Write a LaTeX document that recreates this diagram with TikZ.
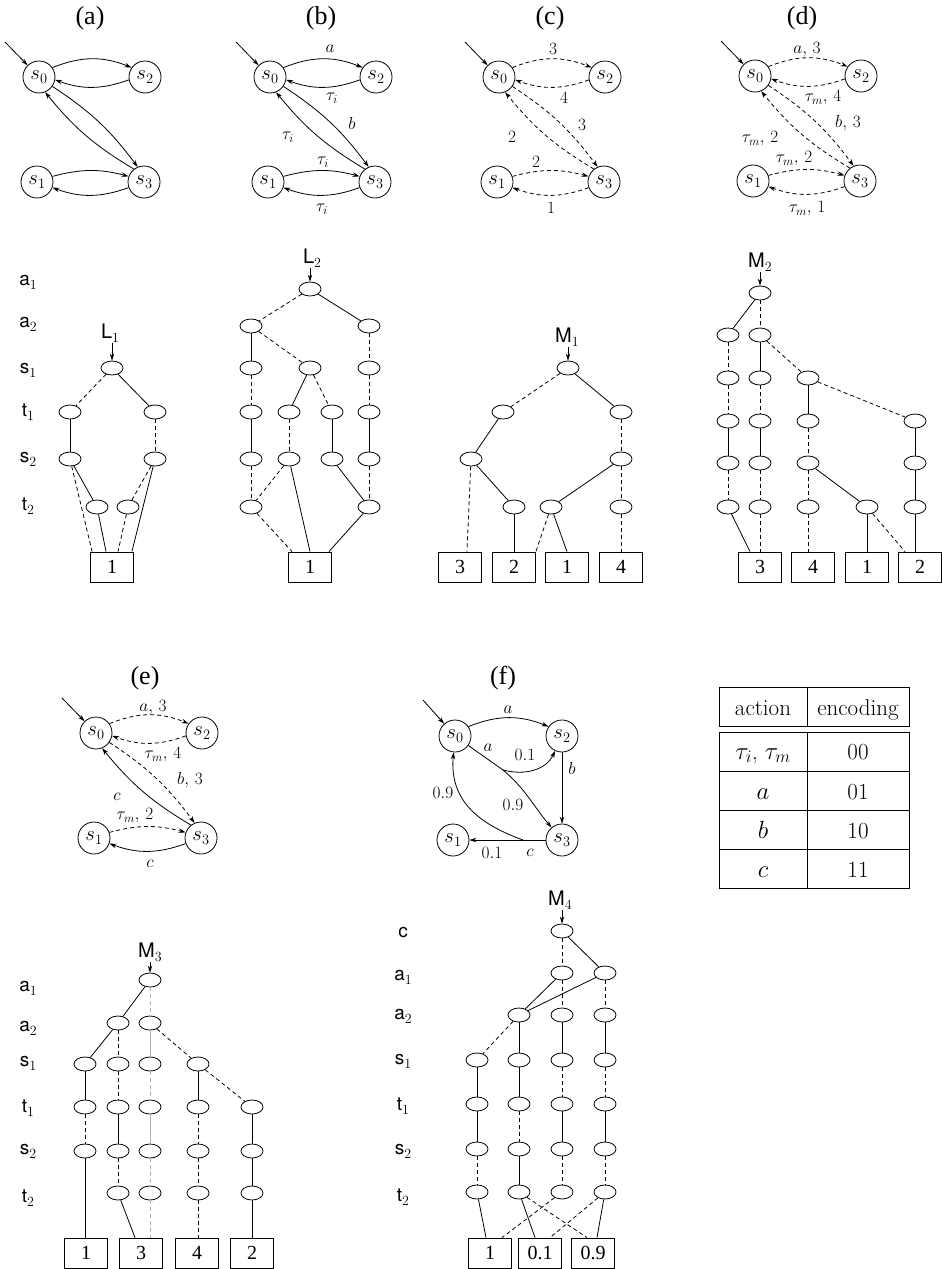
\documentclass[tikz,border=0pt]{standalone}
\usepackage{fontspec}
\setsansfont{TeX Gyre Heros}
\newfontfamily\tfont{Liberation Serif}
\usetikzlibrary{arrows.meta,shapes.geometric,calc}
\newcommand\lsub[1]{\raisebox{-4pt}{\rmfamily\fontsize{14}{14}\selectfont #1}}
\tikzset{
 st/.style={circle, draw, minimum size=32pt, inner sep=0pt, font=\fontsize{22}{24}\selectfont},
 bn/.style={ellipse, draw, minimum width=22pt, minimum height=14pt, inner sep=0pt},
 term/.style={rectangle, draw, minimum width=43pt, minimum height=30pt, inner sep=0pt, font=\tfont\fontsize{20}{22}\selectfont},
 lvl/.style={font=\sffamily\fontsize{19}{20}\selectfont, inner sep=0pt},
 ptr/.style={font=\sffamily\fontsize{20}{21}\selectfont, inner sep=0pt},
 ttl/.style={font=\tfont\fontsize{26}{28}\selectfont},
 el/.style={font=\fontsize{17}{18}\selectfont, inner sep=0pt},
 dsh/.style={dash pattern=on 4pt off 3pt},
 arr/.style={-{Stealth[length=7pt,width=4.5pt]}},
 lite/.style={draw=gray!60},
 tabt/.style={font=\fontsize{23}{25}\selectfont, anchor=base},
}
\begin{document}
\begin{tikzpicture}[x=1pt,y=1pt,line width=0.8pt]
\useasboundingbox (0,0) rectangle (942,-1269);

% ---------------- (a)
\begin{scope}[shift={(39,-77)}, name prefix=a-]
 \node[st] (s0) at (0,0) {$s_0$};
 \node[st] (s2) at (106,0) {$s_2$};
 \node[st] (s1) at (-2,-105) {$s_1$};
 \node[st] (s3) at (105,-105) {$s_3$};
 \node[ttl] (ttl) at (51,59) {(a)};
 \coordinate (ini) at (-34,35);
 \draw[arr] (ini) -- (s0);
 \draw[arr] (s0.35) to[bend left=22] (s2.145);
 \draw[arr] (s2.-170) to[bend left=20] (s0.-10);
 \draw[arr] (s0.-35) to[bend left=10] (s3.113);
 \draw[arr] (s3.128) to[bend left=10] (s0.-68);
 \draw[arr] (s1.20) to[bend left=15] (s3.160);
 \draw[arr] (s3.-160) to[bend left=20] (s1.-20);
\end{scope}

% ---------------- (b)
\begin{scope}[shift={(270,-77)}, name prefix=b-]
 \node[st] (s0) at (0,0) {$s_0$};
 \node[st] (s2) at (106,0) {$s_2$};
 \node[st] (s1) at (-2,-105) {$s_1$};
 \node[st] (s3) at (105,-105) {$s_3$};
 \node[ttl] (ttl) at (51,59) {(b)};
 \coordinate (ini) at (-34,35);
 \draw[arr] (ini) -- (s0);
 \draw[arr] (s0.35) to[bend left=22] (s2.145);
 \draw[arr] (s2.-170) to[bend left=20] (s0.-10);
 \draw[arr] (s0.-35) to[bend left=10] (s3.113);
 \draw[arr] (s3.128) to[bend left=10] (s0.-68);
 \draw[arr] (s1.20) to[bend left=15] (s3.160);
 \draw[arr] (s3.-160) to[bend left=20] (s1.-20);
 \node[el] (l1) at (60,28) {$a$};
 \node[el] (l2) at (62,-21) {$\tau_i$};
 \node[el] (l3) at (82,-46) {$b$};
 \node[el] (l4) at (18,-60) {$\tau_i$};
 \node[el] (l5) at (53,-85) {$\tau_i$};
 \node[el] (l6) at (52,-132) {$\tau_i$};
\end{scope}

% ---------------- (c)
\begin{scope}[shift={(499,-77)}, name prefix=c-]
 \node[st] (s0) at (0,0) {$s_0$};
 \node[st] (s2) at (106,0) {$s_2$};
 \node[st] (s1) at (-2,-105) {$s_1$};
 \node[st] (s3) at (105,-105) {$s_3$};
 \node[ttl] (ttl) at (51,59) {(c)};
 \coordinate (ini) at (-34,35);
 \draw[arr] (ini) -- (s0);
 \draw[arr,dsh] (s0.35) to[bend left=22] (s2.145);
 \draw[arr,dsh] (s2.-170) to[bend left=20] (s0.-10);
 \draw[arr,dsh] (s0.-35) to[bend left=10] (s3.113);
 \draw[arr,dsh] (s3.128) to[bend left=10] (s0.-68);
 \draw[arr,dsh] (s1.20) to[bend left=15] (s3.160);
 \draw[arr,dsh] (s3.-160) to[bend left=20] (s1.-20);
 \node[el] (l1) at (54,28) {$3$};
 \node[el] (l2) at (65,-21) {$4$};
 \node[el] (l3) at (83,-48) {$3$};
 \node[el] (l4) at (13,-60) {$2$};
 \node[el] (l5) at (37,-85) {$2$};
 \node[el] (l6) at (52,-131) {$1$};
\end{scope}

% ---------------- (d)
\begin{scope}[shift={(755,-76)}, name prefix=d-]
 \node[st] (s0) at (0,0) {$s_0$};
 \node[st] (s2) at (106,0) {$s_2$};
 \node[st] (s1) at (-2,-105) {$s_1$};
 \node[st] (s3) at (105,-105) {$s_3$};
 \node[ttl] (ttl) at (47,58) {(d)};
 \coordinate (ini) at (-34,35);
 \draw[arr] (ini) -- (s0);
 \draw[arr,dsh] (s0.35) to[bend left=22] (s2.145);
 \draw[arr,dsh] (s2.-170) to[bend left=20] (s0.-10);
 \draw[arr,dsh] (s0.-35) to[bend left=10] (s3.113);
 \draw[arr,dsh] (s3.128) to[bend left=10] (s0.-68);
 \draw[arr,dsh] (s1.20) to[bend left=15] (s3.160);
 \draw[arr,dsh] (s3.-160) to[bend left=20] (s1.-20);
 \node[el] (l1) at (52,26) {$a,\,3$};
 \node[el] (l2) at (68,-22) {$\tau_m,\,4$};
 \node[el] (l3) at (93,-47) {$b,\,3$};
 \node[el] (l4) at (5,-63) {$\tau_m,\,2$};
 \node[el] (l5) at (39,-83) {$\tau_m,\,2$};
 \node[el] (l6) at (52,-133) {$\tau_m,\,1$};
\end{scope}

% ---------------- (e)
\begin{scope}[shift={(96,-733)}, name prefix=e-]
 \node[st] (s0) at (0,0) {$s_0$};
 \node[st] (s2) at (106,0) {$s_2$};
 \node[st] (s1) at (-2,-105) {$s_1$};
 \node[st] (s3) at (105,-105) {$s_3$};
 \node[ttl] (ttl) at (49,55) {(e)};
 \coordinate (ini) at (-34,35);
 \draw[arr] (ini) -- (s0);
 \draw[arr,dsh] (s0.35) to[bend left=22] (s2.145);
 \draw[arr,dsh] (s2.-170) to[bend left=20] (s0.-10);
 \draw[arr,dsh] (s0.-35) to[bend left=10] (s3.113);
 \draw[arr] (s3.128) to[bend left=10] (s0.-68);
 \draw[arr,dsh] (s1.20) to[bend left=15] (s3.160);
 \draw[arr] (s3.-160) to[bend left=20] (s1.-20);
 \node[el] (l1) at (57,25) {$a,\,3$};
 \node[el] (l2) at (67,-22) {$\tau_m,\,4$};
 \node[el] (l3) at (94,-47) {$b,\,3$};
 \node[el] (l4) at (21,-64) {$c$};
 \node[el] (l5) at (39,-83) {$\tau_m,\,2$};
 \node[el] (l6) at (54,-131) {$c$};
\end{scope}

% ---------------- (f)
\node[st] (f-s0) at (455,-736) {$s_0$};
\node[st] (f-s2) at (562,-736) {$s_2$};
\node[st] (f-s1) at (453,-840) {$s_1$};
\node[st] (f-s3) at (562,-840) {$s_3$};
\node[ttl] (f-ttl) at (503,-678) {(f)};
\coordinate (f-ini) at (423,-700);
\coordinate (f-b1) at (503,-770);
\coordinate (f-b2) at (523,-840);
\draw[arr] (f-ini) -- (f-s0);
\draw[arr] (f-s0.35) to[bend left=22] (f-s2.145);
\draw (f-s0) -- (f-b1);
\draw[arr] (f-b1) to[out=-15, in=-115] (f-s2);
\draw[arr] (f-b1) to[out=-40, in=130] (f-s3);
\draw[arr] (f-s2) -- (f-s3);
\draw (f-s3) -- (f-b2);
\draw[arr] (f-b2) to[out=160, in=-95, looseness=1.1] (f-s0);
\draw[arr] (f-b2) -- (f-s1);
\node[el] (f-l1) at (508,-710) {$a$};
\node[el] (f-l2) at (488,-748) {$a$};
\node[el] (f-l3) at (525,-755) {$0.1$};
\node[el] (f-l4) at (513,-805) {$0.9$};
\node[el] (f-l5) at (572,-768) {$b$};
\node[el] (f-l6) at (443,-793) {$0.9$};
\node[el] (f-l7) at (530,-853) {$c$};
\node[el] (f-l8) at (492,-853) {$0.1$};

% ---------------- table
\draw (719,-687) rectangle (909,-726);
\draw (807,-687) -- (807,-726);
\draw (719,-732) rectangle (909,-888);
\draw (807,-732) -- (807,-888);
\draw (719,-771) -- (909,-771);
\draw (719,-810) -- (909,-810);
\draw (719,-849) -- (909,-849);
\node[tabt] (h1) at (763,-715) {action};
\node[tabt] (h2) at (858,-715) {encoding};
\node[tabt] (r1a) at (763,-759) {$\tau_i$, $\tau_m$};
\node[tabt] (r1b) at (858,-759) {00};
\node[tabt] (r2a) at (763,-799) {$a$};
\node[tabt] (r2b) at (858,-799) {01};
\node[tabt] (r3a) at (763,-838) {$b$};
\node[tabt] (r3b) at (858,-838) {10};
\node[tabt] (r4a) at (763,-877) {$c$};
\node[tabt] (r4b) at (858,-877) {11};

% ---------------- level labels, top row
\node[lvl] (v1) at (28,-282) {a\lsub{1}};
\node[lvl] (v2) at (28,-324) {a\lsub{2}};
\node[lvl] (v3) at (28,-370) {s\lsub{1}};
\node[lvl] (v4) at (28,-412) {t\lsub{1}};
\node[lvl] (v5) at (28,-459) {s\lsub{2}};
\node[lvl] (v6) at (28,-506) {t\lsub{2}};

% ---------------- BDD L1
\node[ptr] (L1) at (110,-333) {L\lsub{1}};
\node[bn] (A1) at (112,-368) {};
\node[bn] (A2) at (70,-412) {};
\node[bn] (A3) at (155,-412) {};
\node[bn] (A4) at (70,-459) {};
\node[bn] (A5) at (155,-459) {};
\node[bn] (A6) at (97,-507) {};
\node[bn] (A7) at (128,-507) {};
\node[term] (AT) at (112,-567) {1};
\draw[arr] (L1.south -| A1) -- (A1);
\draw[dsh] (A1) -- (A2);
\draw (A1) -- (A3);
\draw (A2) -- (A4);
\draw[dsh] (A3) -- (A5);
\draw (A4) -- (A6);
\draw[dsh] (A4) -- ($(AT.north west)+(2,0)$);
\draw (A6) -- ($(AT.north)+(-6,0)$);
\draw[dsh] (A7) -- ($(AT.north)+(6,0)$);
\draw[dsh] (A5) -- (A7);
\draw (A5) -- ($(AT.north east)+(-2,0)$);

% ---------------- BDD L2
\node[ptr] (L2) at (312,-258) {L\lsub{2}};
\node[bn] (B0) at (310,-289) {};
\node[bn] (B1) at (251,-326) {};
\node[bn] (B2) at (369,-326) {};
\node[bn] (B3) at (251,-368) {};
\node[bn] (B4) at (310,-368) {};
\node[bn] (B5) at (369,-368) {};
\node[bn] (B6) at (251,-412) {};
\node[bn] (B7) at (289,-412) {};
\node[bn] (B8) at (332,-412) {};
\node[bn] (B9) at (369,-412) {};
\node[bn] (B10) at (251,-459) {};
\node[bn] (B11) at (289,-459) {};
\node[bn] (B12) at (332,-459) {};
\node[bn] (B13) at (369,-459) {};
\node[bn] (B14) at (251,-507) {};
\node[bn] (B15) at (369,-507) {};
\node[term] (BT) at (310,-567) {1};
\draw[arr] (L2.south -| B0) -- (B0);
\draw[dsh] (B0) -- (B1);
\draw (B0) -- (B2);
\draw (B1) -- (B3);
\draw[dsh] (B1) -- (B4);
\draw[dsh] (B2) -- (B5);
\draw[dsh] (B3) -- (B6);
\draw (B4) -- (B7);
\draw[dsh] (B4) -- (B8);
\draw[dsh] (B5) -- (B9);
\draw (B6) -- (B10);
\draw[dsh] (B7) -- (B11);
\draw (B8) -- (B12);
\draw (B9) -- (B13);
\draw[dsh] (B10) -- (B14);
\draw[dsh] (B11) -- (B14);
\draw (B11) -- (BT.north);
\draw (B12) -- (B15);
\draw[dsh] (B13) -- (B15);
\draw[dsh] (B14) -- ($(BT.north west)+(4,0)$);
\draw (B15) -- ($(BT.north east)+(-3,0)$);

% ---------------- BDD M1
\node[ptr] (M1) at (567,-337) {M\lsub{1}};
\node[bn] (C0) at (568,-368) {};
\node[bn] (C1) at (503,-412) {};
\node[bn] (C2) at (621,-412) {};
\node[bn] (C3) at (471,-459) {};
\node[bn] (C4) at (621,-459) {};
\node[bn] (C5) at (514,-507) {};
\node[bn] (C6) at (551,-507) {};
\node[bn] (C7) at (621,-507) {};
\node[term] (CT3) at (460,-567) {3};
\node[term] (CT2) at (514,-567) {2};
\node[term] (CT1) at (567,-567) {1};
\node[term] (CT4) at (621,-567) {4};
\draw[arr] (M1.south -| C0) -- (C0);
\draw[dsh] (C0) -- (C1);
\draw (C0) -- (C2);
\draw (C1) -- (C3);
\draw[dsh] (C2) -- (C4);
\draw[dsh] (C3) -- ($(CT3.north)+(7,0)$);
\draw (C3) -- (C5);
\draw (C5) -- (CT2);
\draw (C4) -- (C6);
\draw[dsh] (C4) -- (C7);
\draw[dsh] (C6) -- (CT2.north east);
\draw (C6) -- (CT1.north);
\draw[dsh] (C7) -- (CT4);

% ---------------- BDD M2
\node[ptr] (M2) at (760,-262) {M\lsub{2}};
\node[bn] (D0) at (760,-293) {};
\node[bn] (D1) at (728,-335) {};
\node[bn] (D2) at (760,-335) {};
\node[bn] (D3) at (728,-378) {};
\node[bn] (D4) at (760,-378) {};
\node[bn] (D5) at (808,-378) {};
\node[bn] (D6) at (728,-421) {};
\node[bn] (D7) at (760,-421) {};
\node[bn] (D8) at (808,-421) {};
\node[bn] (D9) at (915,-421) {};
\node[bn] (D10) at (728,-463) {};
\node[bn] (D11) at (760,-463) {};
\node[bn] (D12) at (808,-463) {};
\node[bn] (D13) at (915,-463) {};
\node[bn] (D14) at (728,-507) {};
\node[bn] (D15) at (760,-507) {};
\node[bn] (D16) at (808,-507) {};
\node[bn] (D17) at (867,-507) {};
\node[bn] (D18) at (915,-507) {};
\node[term] (DT3) at (760,-567) {3};
\node[term] (DT4) at (813,-567) {4};
\node[term] (DT1) at (867,-567) {1};
\node[term] (DT2) at (920,-567) {2};
\draw[arr] (M2.south -| D0) -- (D0);
\draw (D0) -- (D1);
\draw[dsh] (D0) -- (D2);
\draw[dsh] (D1) -- (D3);
\draw (D2) -- (D4);
\draw[dsh] (D2) -- (D5);
\draw[dsh] (D3) -- (D6);
\draw[dsh] (D4) -- (D7);
\draw (D5) -- (D8);
\draw[dsh] (D5) -- (D9);
\draw (D6) -- (D10);
\draw (D7) -- (D11);
\draw[dsh] (D8) -- (D12);
\draw (D9) -- (D13);
\draw[dsh] (D10) -- (D14);
\draw[dsh] (D11) -- (D15);
\draw[dsh] (D12) -- (D16);
\draw (D12) -- (D17);
\draw (D13) -- (D18);
\draw (D14) -- ($(DT3.north)+(-10,0)$);
\draw[dsh] (D15) -- (DT3.north);
\draw[dsh] (D16) -- (D16 |- DT4.north);
\draw (D17) -- (DT1.north);
\draw[dsh] (D17) -- ($(DT2.north)+(-15,0)$);
\draw (D18) -- (D18 |- DT2.north);

% ---------------- level labels (e)
\node[lvl] (w1) at (28,-988) {a\lsub{1}};
\node[lvl] (w2) at (28,-1028) {a\lsub{2}};
\node[lvl] (w3) at (28,-1063) {s\lsub{1}};
\node[lvl] (w4) at (28,-1108) {t\lsub{1}};
\node[lvl] (w5) at (28,-1151) {s\lsub{2}};
\node[lvl] (w6) at (28,-1198) {t\lsub{2}};

% ---------------- BDD M3
\node[ptr] (M3) at (150,-952) {M\lsub{3}};
\node[bn] (E0) at (150,-980) {};
\node[bn] (E1) at (118,-1023) {};
\node[bn] (E2) at (150,-1023) {};
\node[bn] (E3) at (85,-1064) {};
\node[bn] (E4) at (118,-1064) {};
\node[bn] (E5) at (150,-1064) {};
\node[bn] (E6) at (198,-1064) {};
\node[bn] (E7) at (85,-1107) {};
\node[bn] (E8) at (118,-1107) {};
\node[bn] (E9) at (150,-1107) {};
\node[bn] (E10) at (198,-1107) {};
\node[bn] (E11) at (252,-1107) {};
\node[bn] (E12) at (85,-1151) {};
\node[bn] (E13) at (118,-1151) {};
\node[bn] (E14) at (150,-1151) {};
\node[bn] (E15) at (198,-1151) {};
\node[bn] (E16) at (252,-1151) {};
\node[bn] (E17) at (118,-1193) {};
\node[bn] (E18) at (150,-1193) {};
\node[bn] (E19) at (198,-1193) {};
\node[bn] (E20) at (252,-1193) {};
\node[term] (ET1) at (86,-1253) {1};
\node[term] (ET3) at (141,-1253) {3};
\node[term] (ET4) at (197,-1253) {4};
\node[term] (ET2) at (252,-1253) {2};
\draw[arr] (M3.south -| E0) -- (E0);
\draw (E0) -- (E1);
\draw[dsh,lite] (E0) -- (E2);
\draw (E1) -- (E3);
\draw[dsh] (E1) -- (E4);
\draw[lite] (E2) -- (E5);
\draw[dsh] (E2) -- (E6);
\draw (E3) -- (E7);
\draw[dsh] (E4) -- (E8);
\draw[dsh,lite] (E5) -- (E9);
\draw (E6) -- (E10);
\draw[dsh] (E6) -- (E11);
\draw[dsh] (E7) -- (E12);
\draw (E8) -- (E13);
\draw[lite] (E9) -- (E14);
\draw[dsh] (E10) -- (E15);
\draw (E11) -- (E16);
\draw (E12) -- (E12 |- ET1.north);
\draw[dsh] (E13) -- (E17);
\draw[dsh,lite] (E14) -- (E18);
\draw[dsh] (E15) -- (E19);
\draw (E16) -- (E20);
\draw (E17) -- ($(ET3.north)+(-6,0)$);
\draw[dsh,lite] (E18) -- (E18 |- ET3.north);
\draw[dsh] (E19) -- (E19 |- ET4.north);
\draw (E20) -- (E20 |- ET2.north);

% ---------------- level labels (f)
\node[lvl] (u0) at (403,-933) {c};
\node[lvl] (u1) at (403,-977) {a\lsub{1}};
\node[lvl] (u2) at (403,-1016) {a\lsub{2}};
\node[lvl] (u3) at (403,-1061) {s\lsub{1}};
\node[lvl] (u4) at (403,-1106) {t\lsub{1}};
\node[lvl] (u5) at (403,-1151) {s\lsub{2}};
\node[lvl] (u6) at (403,-1197) {t\lsub{2}};

% ---------------- BDD M4
\node[ptr] (M4) at (560,-900) {M\lsub{4}};
\node[bn] (F0) at (562,-931) {};
\node[bn] (F1) at (562,-973) {};
\node[bn] (F2) at (605,-973) {};
\node[bn] (F3) at (519,-1015) {};
\node[bn] (F4) at (562,-1015) {};
\node[bn] (F5) at (605,-1015) {};
\node[bn] (F6) at (477,-1060) {};
\node[bn] (F7) at (519,-1060) {};
\node[bn] (F8) at (562,-1060) {};
\node[bn] (F9) at (605,-1060) {};
\node[bn] (F10) at (477,-1104) {};
\node[bn] (F11) at (519,-1104) {};
\node[bn] (F12) at (562,-1104) {};
\node[bn] (F13) at (605,-1104) {};
\node[bn] (F14) at (477,-1149) {};
\node[bn] (F15) at (519,-1149) {};
\node[bn] (F16) at (562,-1149) {};
\node[bn] (F17) at (605,-1149) {};
\node[bn] (F18) at (477,-1192) {};
\node[bn] (F19) at (519,-1192) {};
\node[bn] (F20) at (562,-1192) {};
\node[bn] (F21) at (605,-1192) {};
\node[term] (FT1) at (490,-1253) {1};
\node[term] (FT2) at (540,-1253) {0.1};
\node[term] (FT3) at (593,-1253) {0.9};
\draw[arr] (M4.south -| F0) -- (F0);
\draw[dsh] (F0) -- (F1);
\draw (F0) -- (F2);
\draw (F1) -- (F3);
\draw[dsh] (F1) -- (F4);
\draw (F2) -- (F3);
\draw[dsh] (F2) -- (F5);
\draw[dsh] (F3) -- (F6);
\draw (F3) -- (F7);
\draw (F4) -- (F8);
\draw (F5) -- (F9);
\draw (F6) -- (F10);
\draw (F7) -- (F11);
\draw[dsh] (F8) -- (F12);
\draw[dsh] (F9) -- (F13);
\draw (F10) -- (F14);
\draw[dsh] (F11) -- (F15);
\draw (F12) -- (F16);
\draw (F13) -- (F17);
\draw[dsh] (F14) -- (F18);
\draw (F15) -- (F19);
\draw[dsh] (F16) -- (F20);
\draw[dsh] (F17) -- (F21);
\draw (F18) -- ($(FT1.north)+(-4,0)$);
\draw (F19) -- ($(FT2.north)+(-5,0)$);
\draw[dsh] (F19) -- ($(FT3.north)+(-6,0)$);
\draw[dsh] (F20) -- ($(FT1.north)+(12,0)$);
\draw[dsh] (F21) -- ($(FT2.north)+(10,0)$);
\draw (F21) -- ($(FT3.north)+(4,0)$);
\end{tikzpicture}
\end{document}
